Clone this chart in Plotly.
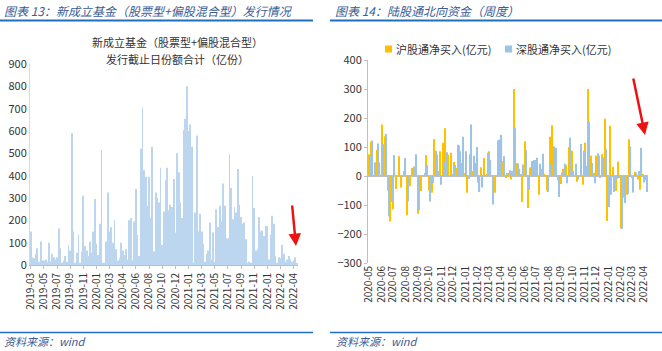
import plotly.graph_objects as go
import pandas as pd

# ---------------- data: left chart (new fund issuance, 亿份) ----------------
fund_shares = [150,35,30,50,75,15,105,20,20,25,
               15,100,15,50,35,25,35,165,75,10,
               20,40,15,90,65,590,150,10,55,135,
               10,60,310,85,65,40,105,55,150,295,
               95,45,185,515,10,10,105,325,150,170,
               100,200,70,20,30,100,65,45,70,25,
               200,210,20,195,340,135,40,520,705,425,
               395,265,395,210,530,60,325,300,280,435,
               90,240,380,435,245,270,260,385,145,500,
               415,280,210,605,655,800,600,630,530,10,
               235,580,150,230,150,95,15,50,65,190,
               25,145,15,250,170,265,195,365,265,120,
               120,495,345,205,260,235,430,270,215,185,
               190,115,10,15,10,400,255,65,70,215,
               150,155,130,175,175,25,135,220,185,40,
               10,35,30,90,50,15,25,40,25,15,
               20,35,5]
fund_tick_labels = ["2019-03","2019-05","2019-07","2019-09","2019-11","2020-01","2020-03",
                    "2020-04","2020-06","2020-08","2020-10","2020-12","2021-01","2021-03",
                    "2021-05","2021-07","2021-09","2021-11","2022-01","2022-02","2022-04"]

# ---------------- data: right chart (northbound weekly, 亿元) ----------------
sh_net = [75,118,0,90,47,178,137,-50,-157,-115,
          -45,68,-40,17,-135,-35,28,0,-130,-52,
          0,72,-50,-58,127,73,85,115,165,73,
          80,48,28,105,45,10,-58,75,17,45,
          -22,30,62,5,85,0,-58,122,67,52,
          -5,10,-12,300,45,25,-90,120,-110,30,
          0,55,-65,25,8,-50,135,175,45,-15,
          -28,25,37,100,87,0,-20,0,-30,115,
          300,70,10,70,70,75,197,-155,173,32,
          -52,50,-180,-75,-65,127,-5,15,-12,-47,
          5,-15]
sz_net = [72,122,47,112,0,110,145,-140,-90,72,
          0,0,0,62,-88,0,33,75,-118,0,
          10,38,-88,-25,87,17,-30,52,82,-3,
          5,38,108,85,135,85,-10,178,70,100,
          -55,-40,0,80,55,-98,0,125,142,68,
          10,20,18,167,43,5,40,90,-48,52,
          55,63,42,77,2,-55,45,103,97,-72,
          12,42,-25,132,18,42,-12,110,87,35,
          188,45,-25,78,-5,65,93,-107,-65,-55,
          -10,-5,-183,-93,-62,102,-57,12,17,97,
          -22,-55]
series_names = ["沪股通净买入(亿元)", "深股通净买入(亿元)"]
series_colors = ["#ffc000", "#9dc3e6"]
weeks = pd.date_range("2020-05-01", periods=len(sh_net), freq="7D")

W, H = 662, 351
def px(x):
    return x / W
def py(y):
    return 1 - y / H

FONT = "Noto Sans CJK SC"
fig = go.Figure()

fig.add_trace(go.Bar(x=list(range(len(fund_shares))), y=fund_shares,
                     marker=dict(color="#bcd6f0", line=dict(width=0)),
                     width=0.5, xaxis="x", yaxis="y", showlegend=False))

for vals, name, col in zip([sh_net, sz_net], series_names, series_colors):
    fig.add_trace(go.Bar(x=weeks, y=vals, name=name,
                         marker=dict(color=col, line=dict(width=0)),
                         xaxis="x2", yaxis="y2", showlegend=False))

n = len(fund_shares)
tickvals = [i * 8 for i in range(len(fund_tick_labels))]

fig.update_layout(
    width=W, height=H,
    margin=dict(l=0, r=0, t=0, b=0, autoexpand=False),
    paper_bgcolor="white", plot_bgcolor="white",
    font=dict(family=FONT, color="#333333", size=11),
    barmode="group", bargap=0.15, bargroupgap=0,
    showlegend=False,
    xaxis=dict(domain=[px(30), px(298)], range=[-0.5, n - 0.3],
               tickmode="array", tickvals=tickvals, ticktext=fund_tick_labels,
               tickangle=-90, tickfont=dict(size=10, color="#333333"),
               showline=True, linecolor="#bfbfbf", linewidth=1,
               ticks="outside", ticklen=3, tickcolor="#bfbfbf",
               showgrid=False, zeroline=False, anchor="y", automargin=False),
    yaxis=dict(domain=[py(265), py(64)], range=[0, 900], dtick=100,
               showline=True, linecolor="#d9d9d9", linewidth=1,
               showgrid=False, zeroline=False, ticks="",
               tickfont=dict(size=11, color="#333333"), anchor="x", automargin=False),
    xaxis2=dict(domain=[px(368), px(648)], type="date",
                range=["2020-04-28", "2022-04-12"],
                dtick="M1", tick0="2020-05-01", tickformat="%Y-%m",
                tickangle=-90, tickfont=dict(size=10, color="#333333"),
                showline=False, showgrid=False, zeroline=False,
                ticks="", anchor="y2", automargin=False),
    yaxis2=dict(domain=[py(263), py(60)], range=[-300, 400], dtick=100,
                showline=True, linecolor="#bfbfbf", linewidth=1,
                ticks="outside", ticklen=3, tickcolor="#bfbfbf",
                showgrid=False, zeroline=True, zerolinecolor="#bfbfbf",
                zerolinewidth=2, tickfont=dict(size=11, color="#333333"),
                anchor="x2", automargin=False),
)

shapes = []
for x0, x1 in [(0, 313), (330, 662)]:
    shapes.append(dict(type="line", xref="paper", yref="paper",
                       x0=px(x0), x1=px(x1), y0=py(20.5), y1=py(20.5),
                       line=dict(color="#1f6fc0", width=2)))
    shapes.append(dict(type="line", xref="paper", yref="paper",
                       x0=px(x0), x1=px(x1), y0=py(332.5), y1=py(332.5),
                       line=dict(color="#1f6fc0", width=1.5)))

TITLE_COLOR = "#3b5b94"
ann = [
    dict(text="<i>图表 13：新成立基金（股票型+偏股混合型）发行情况</i>", x=px(2), y=py(10.5),
         xanchor="left", yanchor="middle", font=dict(size=12, color=TITLE_COLOR)),
    dict(text="<i>图表 14：陆股通北向资金（周度）</i>", x=px(333), y=py(10.5),
         xanchor="left", yanchor="middle", font=dict(size=12, color=TITLE_COLOR)),
    dict(text="<i>资料来源：wind</i>", x=px(2), y=py(341),
         xanchor="left", yanchor="middle", font=dict(size=11, color=TITLE_COLOR)),
    dict(text="<i>资料来源：wind</i>", x=px(334), y=py(341),
         xanchor="left", yanchor="middle", font=dict(size=11, color=TITLE_COLOR)),
    dict(text="新成立基金（股票型+偏股混合型）", x=px(177), y=py(42),
         xanchor="center", yanchor="middle", font=dict(size=11, color="#333333")),
    dict(text="发行截止日份额合计（亿份）", x=px(177), y=py(59),
         xanchor="center", yanchor="middle", font=dict(size=11, color="#333333")),
    dict(text="", x=px(296), y=py(246), ax=-4, ay=-42, showarrow=True,
         arrowhead=2, arrowsize=1, arrowwidth=2.5, arrowcolor="#ee1111"),
    dict(text="", x=px(645), y=py(135), ax=-12, ay=-58, showarrow=True,
         arrowhead=2, arrowsize=1, arrowwidth=2.5, arrowcolor="#ee1111"),
]

# legend (drawn as swatches + labels)
for sx, name, col in zip([385, 505], series_names, series_colors):
    shapes.append(dict(type="rect", xref="paper", yref="paper",
                       x0=px(sx), x1=px(sx + 7), y0=py(52.5), y1=py(45.5),
                       fillcolor=col, line=dict(width=0)))
    ann.append(dict(text=name, x=px(sx + 9), y=py(49), xanchor="left",
                    yanchor="middle", font=dict(size=11, color="#333333")))

for a in ann:
    a.setdefault("xref", "paper")
    a.setdefault("yref", "paper")
    a.setdefault("showarrow", False)
    if a.get("showarrow"):
        a["axref"] = "pixel"
        a["ayref"] = "pixel"
fig.update_layout(shapes=shapes, annotations=ann)

fig.write_html("out.html",
               post_script="document.body.style.margin='0';document.body.style.padding='0';")
